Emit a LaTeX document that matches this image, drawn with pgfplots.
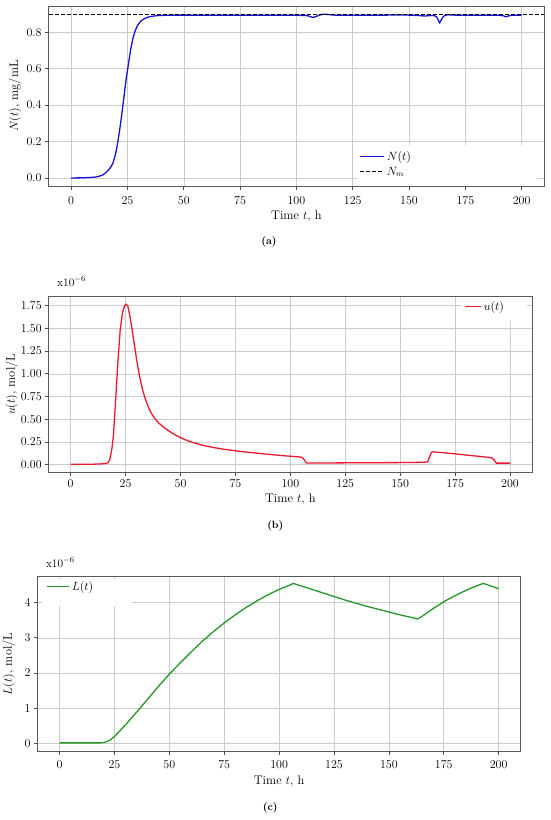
\documentclass[border=0pt]{standalone}
\usepackage{pgfplots}
\pgfplotsset{compat=1.18}
\definecolor{cblue}{RGB}{20,20,215}
\definecolor{cred}{RGB}{238,24,48}
\definecolor{cgreen}{RGB}{40,150,40}
\pgfplotsset{myax/.style={
  scale only axis, anchor=south west,
  xmin=-10, xmax=210, xtick={0,25,...,200},
  grid=major, major grid style={line width=0.5pt, color=black!20},
  axis line style={black!65, line width=0.8pt},
  tick align=outside, xtick pos=bottom, ytick pos=left,
  tick style={black!70, line width=0.6pt}, major tick length=3.5pt,
  xlabel={Time $t$, h},
  ticklabel style={font=\fontsize{11.5}{13}\selectfont},
  label style={font=\fontsize{12.5}{14}\selectfont},
  scaled y ticks=false,
  legend cell align=left,
  legend style={draw=none, fill=none, inner sep=0pt, row sep=1pt,
    font=\fontsize{11.5}{13}\selectfont, nodes={inner sep=2pt}},
}}
\begin{document}
\begin{tikzpicture}
\useasboundingbox (0pt,0pt) rectangle (550pt,-820pt);
% ---------------- (a)
\begin{axis}[myax, at={(48.6pt,-186pt)}, width=495.6pt, height=180pt,
  ymin=-0.044, ymax=0.944, ytick={0,0.2,0.4,0.6,0.8},
  yticklabel style={/pgf/number format/.cd, fixed, fixed zerofill, precision=1},
  xticklabel style={yshift=-3.5pt},
  ylabel={$N(t)$, mg/mL}, ylabel shift=-1.5pt,
  legend image code/.code={\draw[#1] (0pt,0pt) -- (24pt,0pt);},
  legend style={at={(axis description cs:0.627,0.205)}, anchor=north west}]
\fill[white] (axis description cs:0.622,0) rectangle (axis description cs:0.985,0.228);
\addplot[cblue, line width=1.3pt] coordinates {
(0,0) (5,0.001) (10,0.004) (12,0.008) (14,0.016) (16,0.035) (17.5,0.058) (18.5,0.08)
(19.5,0.12) (20.5,0.18) (21.5,0.26) (22.5,0.35) (23.5,0.45) (24.5,0.55) (25.5,0.63)
(26.5,0.71) (27.5,0.77) (28.5,0.81) (29.5,0.838) (31,0.862) (33,0.878) (35,0.886)
(38,0.891) (42,0.893) (50,0.894) (60,0.893) (70,0.893) (80,0.893) (90,0.893) (100,0.893)
(104,0.892) (105.5,0.889) (106.5,0.884) (107.5,0.881) (108.5,0.885) (110,0.893)
(111.5,0.898) (113,0.899) (115,0.896) (118,0.893) (125,0.893) (135,0.893) (145,0.895)
(150,0.894) (155,0.891) (157,0.889) (159,0.891) (161,0.892) (162.3,0.884) (163,0.865)
(163.6,0.852) (164.3,0.868) (165.3,0.888) (167,0.896) (170,0.894) (180,0.893) (190,0.893)
(192,0.890) (193,0.884) (194,0.889) (195.5,0.893) (200,0.894)};
\addlegendentry{$N(t)$}
\addplot[black, line width=1pt, dash pattern=on 4pt off 2pt] coordinates {(-10,0.895) (210,0.895)};
\addlegendentry{$N_m$}
\end{axis}
\node[font=\bfseries\fontsize{10.5}{12}\selectfont] at (269pt,-242pt) {(a)};
% ---------------- (b)
\begin{axis}[myax, at={(48.7pt,-472.3pt)}, width=483.3pt, height=176pt,
  ymin=-0.085, ymax=1.853, ytick={0,0.25,...,1.75},
  yticklabel style={/pgf/number format/.cd, fixed, fixed zerofill, precision=2},
  ylabel={$u(t)$, mol/L}, ylabel shift=-4pt,
  legend image code/.code={\draw[#1] (0pt,0pt) -- (16pt,0pt);},
  legend style={at={(axis description cs:0.86,0.985)}, anchor=north west}]
\fill[white] (axis description cs:0.855,0.86) rectangle (axis description cs:0.99,0.996);
\addplot[cred, line width=1.3pt] coordinates {
(0,0.003) (10,0.004) (14,0.008) (16,0.012) (17,0.02) (17.7,0.05) (18.2,0.1) (18.8,0.18)
(19.5,0.33) (20.5,0.72) (21.5,1.13) (22.5,1.47) (23.5,1.66) (24.5,1.75) (25.3,1.765)
(26,1.75) (27,1.63) (28,1.48) (29,1.32) (30,1.16) (31,1.02) (32,0.9) (33,0.8)
(34,0.72) (35,0.655) (36,0.6) (37,0.555) (38,0.518) (39,0.487) (40,0.46) (42,0.418)
(44,0.382) (46,0.35) (48,0.322) (50,0.297) (52.5,0.27) (55,0.248) (60,0.213) (65,0.188)
(70,0.168) (75,0.152) (80,0.138) (85,0.125) (90,0.113) (95,0.102) (100,0.092) (104,0.085)
(105.5,0.078) (106.5,0.045) (107.3,0.018) (110,0.017) (130,0.02) (150,0.022) (160,0.025)
(162.5,0.03) (163.5,0.09) (164.2,0.135) (165,0.14) (170,0.13) (175,0.118) (180,0.105)
(185,0.093) (190,0.08) (192,0.072) (193,0.04) (193.8,0.016) (200,0.016)};
\addlegendentry{$u(t)$}
\end{axis}
\node[anchor=west, inner sep=0pt, font=\fontsize{11.5}{13}\selectfont] at (57pt,-281.7pt) {x10$^{-6}$};
\node[font=\bfseries\fontsize{10.5}{12}\selectfont] at (275.3pt,-526pt) {(b)};
% ---------------- (c)
\begin{axis}[myax, at={(37.65pt,-751pt)}, width=482.9pt, height=174.3pt,
  ymin=-0.21, ymax=4.73, ytick={0,1,2,3,4},
  xticklabel style={yshift=-3pt},
  ylabel={$L(t)$, mol/L}, ylabel shift=3pt,
  legend image code/.code={\draw[#1] (0pt,0pt) -- (22pt,0pt);},
  legend style={at={(axis description cs:0.018,0.985)}, anchor=north west}]
\fill[white] (axis description cs:0.008,0.834) rectangle (axis description cs:0.196,0.985);
\addplot[cgreen, line width=1.3pt] coordinates {
(0,0.02) (18.5,0.02) (20,0.03) (21.5,0.055) (23,0.1) (25,0.2) (27,0.33) (29,0.465)
(31,0.6) (33,0.74) (35,0.885) (37,1.03) (40,1.25) (45,1.62) (50,1.97) (55,2.29)
(60,2.6) (65,2.9) (70,3.17) (75,3.42) (80,3.65) (85,3.86) (90,4.05) (95,4.22) (100,4.37)
(104,4.47) (106.5,4.54) (110,4.47) (115,4.37) (120,4.27) (125,4.17) (130,4.07) (135,3.98)
(140,3.89) (145,3.81) (150,3.73) (155,3.65) (160,3.58) (163,3.53) (165,3.6) (170,3.82)
(175,4.02) (180,4.19) (185,4.34) (190,4.47) (193,4.54) (196,4.48) (200,4.39)};
\addlegendentry{$L(t)$}
\end{axis}
\node[anchor=west, inner sep=0pt, font=\fontsize{11.5}{13}\selectfont] at (45.8pt,-562.7pt) {x10$^{-6}$};
\node[font=\bfseries\fontsize{10.5}{12}\selectfont] at (270.3pt,-808.3pt) {(c)};
\end{tikzpicture}
\end{document}
